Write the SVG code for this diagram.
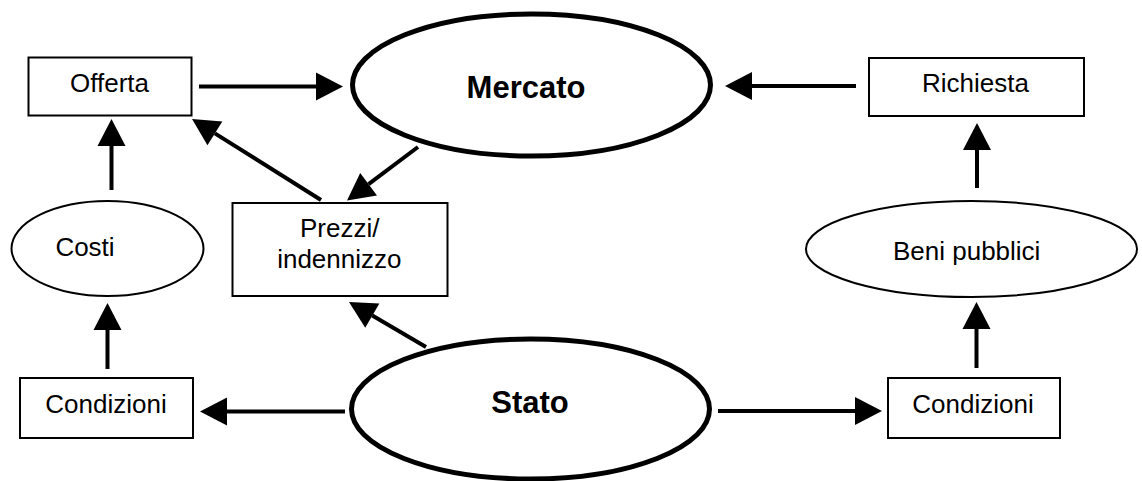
<svg xmlns="http://www.w3.org/2000/svg" width="1142" height="481" viewBox="0 0 1142 481">
  <style>
    .box { fill: #fff; stroke: #000; stroke-width: 2; }
    .thin { fill: #fff; stroke: #000; stroke-width: 2; }
    .thick { fill: #fff; stroke: #000; stroke-width: 5; }
    .lbl { font-family: "Liberation Sans", Arial, sans-serif; font-size: 26px; fill: #000; text-anchor: middle; }
    .big { font-family: "Liberation Sans", Arial, sans-serif; font-size: 31px; font-weight: bold; fill: #000; text-anchor: middle; }
    .conn line { stroke: #000; stroke-width: 4; marker-end: url(#head); }
  </style>
  <defs>
    <marker id="head" markerUnits="userSpaceOnUse" markerWidth="28" markerHeight="28" viewBox="0 -14 28 28" refX="0" refY="0" orient="auto" overflow="visible">
      <path d="M0,-14 L27,0 L0,14 z" fill="#000"/>
    </marker>
  </defs>
  <rect width="1142" height="481" fill="#fff"/>

  <g id="connectors" class="conn">
    <line x1="199" y1="86.5" x2="316" y2="86.5"/>
    <line x1="856" y1="86" x2="752" y2="86"/>
    <line x1="111.5" y1="190" x2="111.5" y2="146"/>
    <line x1="321" y1="200" x2="214.9" y2="133.4"/>
    <line x1="418" y1="147" x2="368.6" y2="184.2"/>
    <line x1="426" y1="347" x2="372.3" y2="315.6"/>
    <line x1="107.5" y1="369" x2="107.5" y2="330"/>
    <line x1="345" y1="411.5" x2="227" y2="411.5"/>
    <line x1="718" y1="411" x2="855" y2="411"/>
    <line x1="976.5" y1="368" x2="976.5" y2="329"/>
    <line x1="977" y1="188" x2="977" y2="150"/>
  </g>

  <g id="offerta">
    <rect class="box" x="28.5" y="57.5" width="163" height="58"/>
    <text class="lbl" x="109.5" y="92">Offerta</text>
  </g>
  <g id="mercato">
    <ellipse class="thick" cx="531.5" cy="85" rx="179" ry="71"/>
    <text class="big" x="526" y="98">Mercato</text>
  </g>
  <g id="richiesta">
    <rect class="box" x="869" y="58" width="215" height="58"/>
    <text class="lbl" x="975.5" y="92">Richiesta</text>
  </g>
  <g id="costi">
    <ellipse class="thin" cx="107.5" cy="248.5" rx="96" ry="47.5"/>
    <text class="lbl" x="85" y="256">Costi</text>
  </g>
  <g id="prezzi">
    <rect class="box" x="232.5" y="203" width="215" height="93"/>
    <text class="lbl" x="339.7" y="237">Prezzi/</text>
    <text class="lbl" x="339.3" y="268">indennizzo</text>
  </g>
  <g id="beni-pubblici">
    <ellipse class="thin" cx="971.5" cy="249" rx="165.5" ry="48"/>
    <text class="lbl" x="966.7" y="260">Beni pubblici</text>
  </g>
  <g id="condizioni-sx">
    <rect class="box" x="20" y="378" width="173" height="60"/>
    <text class="lbl" x="106" y="413">Condizioni</text>
  </g>
  <g id="stato">
    <ellipse class="thick" cx="530.5" cy="409" rx="179" ry="70"/>
    <text class="big" x="530" y="413">Stato</text>
  </g>
  <g id="condizioni-dx">
    <rect class="box" x="888" y="378" width="172" height="60"/>
    <text class="lbl" x="973" y="413">Condizioni</text>
  </g>
</svg>
